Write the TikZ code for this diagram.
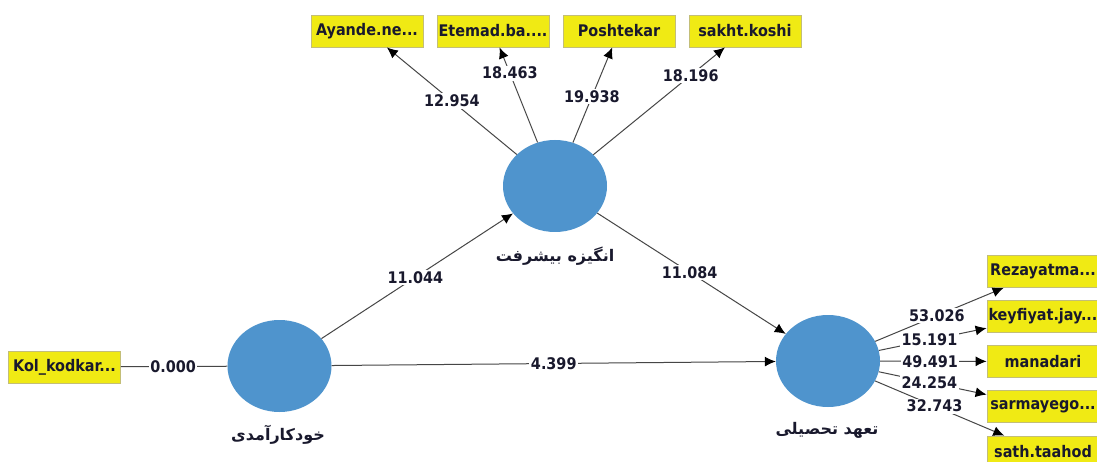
\documentclass[tikz,border=0pt]{standalone}
\usepackage{fontspec}
\setmainfont{DejaVu Sans Condensed}
\newfontfamily\arabicfont[Script=Arabic]{DejaVu Sans}
\TeXXeTstate=1
\usetikzlibrary{shapes.geometric,arrows.meta}
\definecolor{lvcol}{RGB}{79,148,205}
\definecolor{indcol}{RGB}{240,234,20}
\definecolor{indb}{RGB}{195,190,120}
\definecolor{lncol}{RGB}{70,70,70}
\definecolor{txcol}{RGB}{25,25,45}
\begin{document}
\begin{tikzpicture}[x=1pt,y=-1pt,
 lat/.style={ellipse,fill=lvcol,minimum width=104pt,minimum height=92pt,inner sep=0pt},
 indbox/.style={rectangle,fill=indcol,draw=indb,line width=0.8pt,minimum width=112pt,minimum height=32pt,inner sep=0pt,font=\bfseries\fontsize{16}{18}\selectfont,text=txcol},
 conn/.style={draw=lncol,line width=1pt,-{Latex[length=11pt,width=10pt,color=black]}},
 plain/.style={draw=lncol,line width=1pt},
 val/.style={fill=white,inner sep=1.5pt,font=\bfseries\fontsize{16}{18}\selectfont,text=txcol},
 plab/.style={font=\arabicfont\bfseries\fontsize{16}{18}\selectfont,text=txcol}]
\useasboundingbox (0,0) rectangle (1097,462);
\fill[white] (0,0) rectangle (1097,462);
% latent variables
\node[lat] (anj) at (555,186) {};
\node[lat] (kod) at (279.5,366) {};
\node[lat] (tah) at (828,361) {};
\node[plab] (lanj) at (555,256) {\beginR انگیزه بیشرفت\endR};
\node[plab] (lkod) at (278,435) {\beginR خودکارآمدی\endR};
\node[plab] (ltah) at (827,430) {\beginR تعهد تحصیلی\endR};
% indicators
\node[indbox] (ay) at (367,31) {Ayande.ne...};
\node[indbox] (et) at (493,31) {Etemad.ba....};
\node[indbox] (po) at (619,31) {Poshtekar};
\node[indbox] (sa) at (745,31) {sakht.koshi};
\node[indbox] (kol) at (64.5,367) {Kol\_kodkar...};
\node[indbox] (re) at (1043,271.5) {Rezayatma...};
\node[indbox] (ke) at (1043,316.5) {keyfiyat.jay...};
\node[indbox] (ma) at (1043,361.5) {manadari};
\node[indbox] (sr) at (1043,406.5) {sarmayego...};
\node[indbox] (st) at (1043,452) {sath.taahod};
% outer model
\draw[conn] (anj) -- node[val,pos=.50]{12.954} (ay);
\draw[conn] (anj) -- node[val,pos=.73]{18.463} (et);
\draw[conn] (anj) -- node[val,pos=.48]{19.938} (po);
\draw[conn] (anj) -- node[val,pos=.74]{18.196} (sa);
\draw[plain] (kol) -- node[val,pos=.49]{0.000} (kod);
\draw[conn] (tah) -- node[val,pos=.48]{53.026} (re);
\draw[conn] (tah) -- node[val,pos=.47]{15.191} (ke);
\draw[conn] (tah) -- node[val,pos=.47]{49.491} (ma);
\draw[conn] (tah) -- node[val,pos=.47]{24.254} (sr);
\draw[conn] (tah) -- node[val,pos=.46]{32.743} (st);
% inner model
\draw[conn] (kod) -- node[val,pos=.49]{11.044} (anj);
\draw[conn] (anj) -- node[val,pos=.49]{11.084} (tah);
\draw[conn] (kod) -- node[val,pos=.5]{4.399} (tah);
\end{tikzpicture}
\end{document}
